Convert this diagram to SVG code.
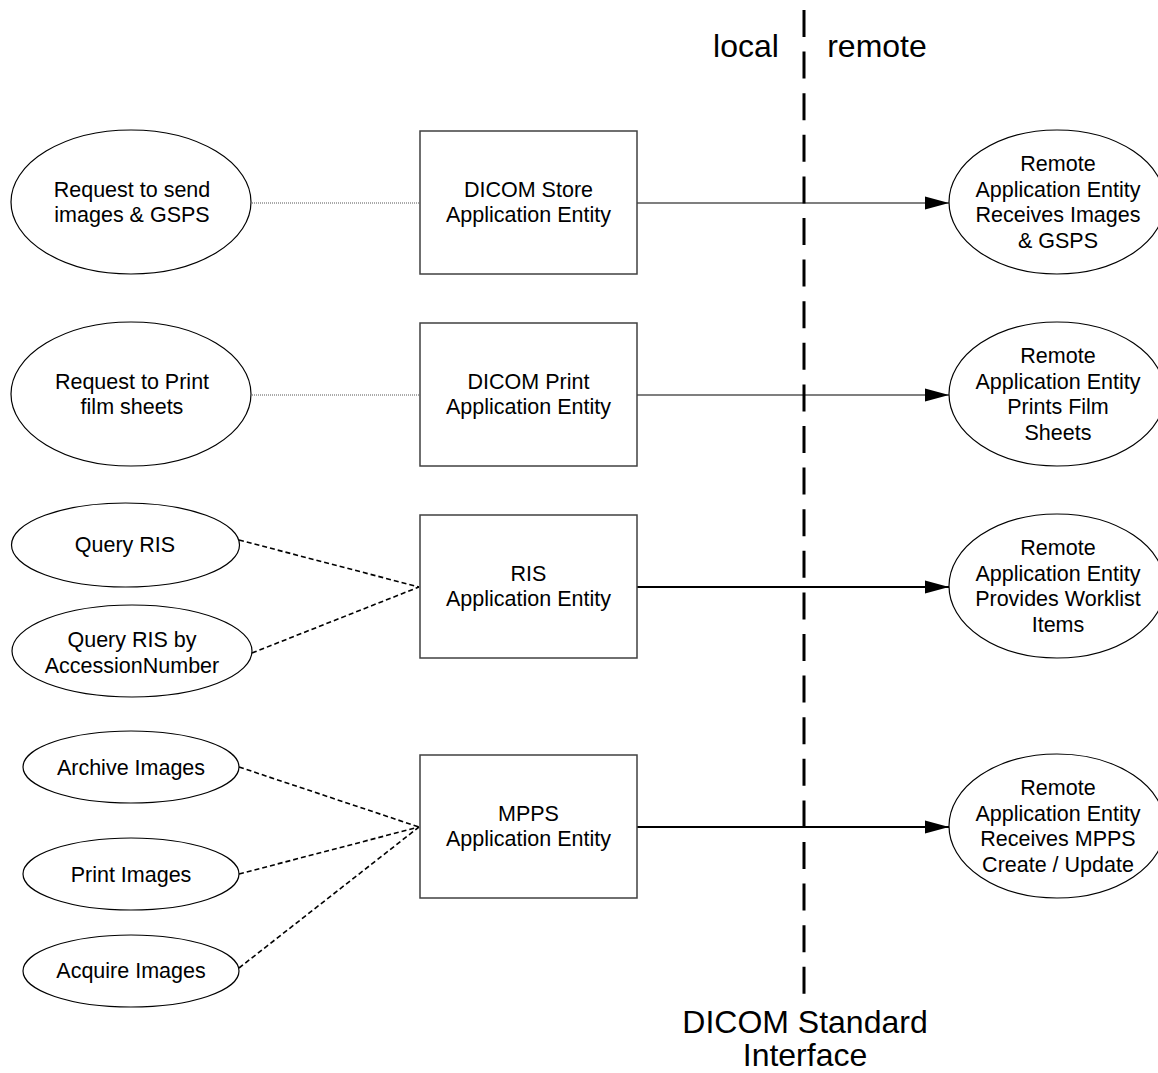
<svg xmlns="http://www.w3.org/2000/svg" width="1158" height="1073" viewBox="0 0 1158 1073">
<style>
text{font-family:"Liberation Sans",Arial,sans-serif;font-size:21.5px;fill:#000;text-anchor:middle}
.big{font-size:32px}
.ell{fill:#fff;stroke:#000;stroke-width:1.2}
.box{fill:#fff;stroke:#404040;stroke-width:1.5}
.dot{stroke:#555;stroke-width:1;stroke-dasharray:1 1;fill:none}
.dash{stroke:#000;stroke-width:1.6;stroke-dasharray:5 3;fill:none}
.arr{stroke:#000;fill:none;marker-end:url(#ah)}
</style>
<defs>
<marker id="ah" markerUnits="userSpaceOnUse" markerWidth="24" markerHeight="14" refX="22" refY="6" orient="auto" viewBox="0 0 22 12">
<path d="M0,0 L22,6 L0,12 Z" fill="#000"/>
</marker>
</defs>
<rect width="1158" height="1073" fill="#fff"/>
<g id="connectors">
<line class="dot" x1="252" y1="203" x2="420" y2="203"/>
<line class="dot" x1="252" y1="395" x2="420" y2="395"/>
<line class="dash" x1="239" y1="540" x2="419" y2="587"/>
<line class="dash" x1="252" y1="653" x2="419" y2="587"/>
<line class="dash" x1="239" y1="767" x2="419" y2="827"/>
<line class="dash" x1="239" y1="874" x2="419" y2="827"/>
<line class="dash" x1="239" y1="968" x2="419" y2="827"/>
<line class="arr" x1="637" y1="203" x2="949" y2="203" stroke-width="1.2"/>
<line class="arr" x1="637" y1="395" x2="949" y2="395" stroke-width="1.2"/>
<line class="arr" x1="637" y1="587" x2="949" y2="587" stroke-width="2"/>
<line class="arr" x1="637" y1="827" x2="949" y2="827" stroke-width="2"/>
</g>
<g id="interface">
<line x1="804" y1="10" x2="804" y2="994" stroke="#000" stroke-width="3" stroke-dasharray="27 14.6"/>
<text class="big" x="746" y="57">local</text>
<text class="big" x="877" y="57">remote</text>
<text class="big" x="805" y="1033">DICOM Standard</text>
<text class="big" x="805" y="1066">Interface</text>
</g>
<g id="req-send">
<ellipse class="ell" cx="131" cy="202" rx="120" ry="72"/>
<text x="132" y="197">Request to send</text>
<text x="132" y="222">images &amp; GSPS</text>
</g>
<g id="req-print">
<ellipse class="ell" cx="131" cy="394" rx="120" ry="72"/>
<text x="132" y="389">Request to Print</text>
<text x="132" y="414">film sheets</text>
</g>
<g id="query-ris">
<ellipse class="ell" cx="125.5" cy="545" rx="114" ry="42"/>
<text x="125" y="552">Query RIS</text>
</g>
<g id="query-ris-acc">
<ellipse class="ell" cx="132" cy="651" rx="120" ry="46"/>
<text x="132" y="647">Query RIS by</text>
<text x="132" y="673">AccessionNumber</text>
</g>
<g id="archive">
<ellipse class="ell" cx="131" cy="767" rx="108" ry="36"/>
<text x="131" y="775">Archive Images</text>
</g>
<g id="print-images">
<ellipse class="ell" cx="131" cy="874" rx="108" ry="36"/>
<text x="131" y="882">Print Images</text>
</g>
<g id="acquire">
<ellipse class="ell" cx="131" cy="971" rx="108" ry="36"/>
<text x="131" y="978">Acquire Images</text>
</g>
<g id="store-ae">
<rect class="box" x="420" y="131" width="217" height="143"/>
<text x="528.5" y="197">DICOM Store</text>
<text x="528.5" y="222">Application Entity</text>
</g>
<g id="print-ae">
<rect class="box" x="420" y="323" width="217" height="143"/>
<text x="528.5" y="389">DICOM Print</text>
<text x="528.5" y="414">Application Entity</text>
</g>
<g id="ris-ae">
<rect class="box" x="420" y="515" width="217" height="143"/>
<text x="528.5" y="581">RIS</text>
<text x="528.5" y="606">Application Entity</text>
</g>
<g id="mpps-ae">
<rect class="box" x="420" y="755" width="217" height="143"/>
<text x="528.5" y="821">MPPS</text>
<text x="528.5" y="846">Application Entity</text>
</g>
<g id="remote-store">
<ellipse class="ell" cx="1057" cy="202" rx="108" ry="72"/>
<text x="1058" y="171">Remote</text>
<text x="1058" y="197">Application Entity</text>
<text x="1058" y="222">Receives Images</text>
<text x="1058" y="248">&amp; GSPS</text>
</g>
<g id="remote-print">
<ellipse class="ell" cx="1057" cy="394" rx="108" ry="72"/>
<text x="1058" y="363">Remote</text>
<text x="1058" y="389">Application Entity</text>
<text x="1058" y="414">Prints Film</text>
<text x="1058" y="440">Sheets</text>
</g>
<g id="remote-ris">
<ellipse class="ell" cx="1057" cy="586" rx="108" ry="72"/>
<text x="1058" y="555">Remote</text>
<text x="1058" y="581">Application Entity</text>
<text x="1058" y="606">Provides Worklist</text>
<text x="1058" y="632">Items</text>
</g>
<g id="remote-mpps">
<ellipse class="ell" cx="1057" cy="826" rx="108" ry="72"/>
<text x="1058" y="795">Remote</text>
<text x="1058" y="821">Application Entity</text>
<text x="1058" y="846">Receives MPPS</text>
<text x="1058" y="872">Create / Update</text>
</g>
</svg>
